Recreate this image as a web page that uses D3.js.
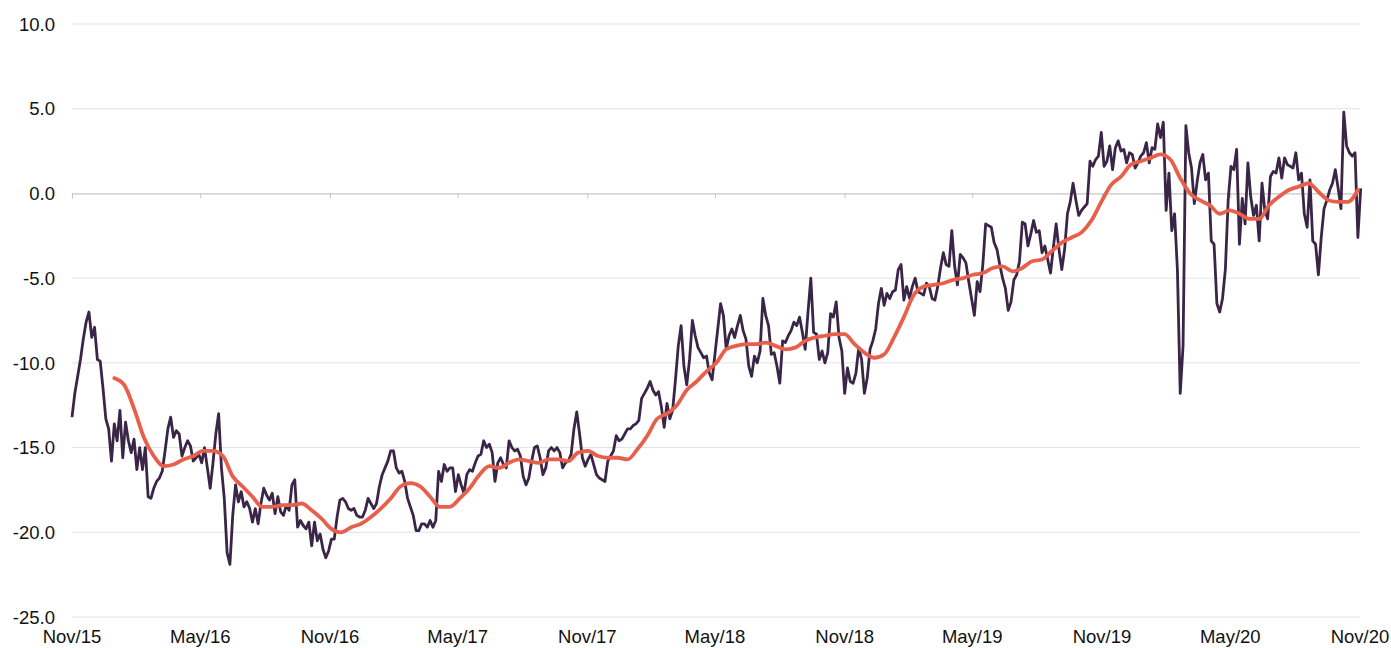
<!DOCTYPE html>
<html>
<head>
<meta charset="utf-8">
<script src="https://cdn.jsdelivr.net/npm/d3@7"></script>
<style>
	body { margin: 0; background: #fff; }
	text { font-family: 'Liberation Sans', Arial, sans-serif; }
</style>
</head>
<body>
<script>
// daily-ish discount series, one value every 4 days from 1 Nov 2015
var startDate = new Date(2015, 10, 1);
var stepDays = 4;
var discount = [
	-13.2, -11.8, -10.8, -9.8, -8.6, -7.6, -7.0, -8.5, -7.9, -9.8,
	-9.9, -11.5, -13.3, -13.9, -15.8, -13.6, -14.6, -12.8, -15.6, -13.5,
	-14.6, -15.3, -14.5, -16.3, -15.0, -16.3, -15.0, -17.9, -18.0, -17.4,
	-17.0, -16.8, -16.4, -15.2, -13.9, -13.2, -14.4, -14.0, -14.2, -15.5,
	-15.0, -14.6, -14.9, -15.8, -15.6, -15.4, -15.9, -15.0, -16.2, -17.4,
	-15.9, -14.2, -13.0, -16.2, -18.0, -21.2, -21.9, -19.0, -17.2, -18.2,
	-17.6, -18.5, -18.2, -18.6, -19.4, -18.6, -19.5, -18.3, -17.4, -17.8,
	-18.1, -17.7, -18.9, -17.9, -18.8, -19.0, -18.4, -18.7, -17.2, -16.9,
	-19.7, -19.3, -19.6, -19.8, -19.4, -20.8, -19.4, -20.5, -20.1, -21.0,
	-21.5, -21.1, -20.4, -20.4, -19.1, -18.1, -18.0, -18.2, -18.6, -18.7,
	-18.6, -19.0, -19.1, -19.1, -18.7, -18.0, -18.3, -18.6, -18.3, -17.3,
	-16.6, -16.2, -15.8, -15.2, -15.2, -16.2, -16.5, -16.4, -17.0, -18.0,
	-18.5, -19.0, -19.9, -19.9, -19.5, -19.5, -19.7, -19.3, -19.7, -19.3,
	-16.4, -17.0, -16.0, -16.4, -16.2, -16.2, -17.6, -16.6, -17.2, -17.7,
	-16.6, -16.3, -16.4, -15.9, -15.5, -15.4, -14.6, -15.0, -14.8, -15.3,
	-17.0, -15.9, -15.6, -16.0, -16.2, -14.6, -15.0, -15.2, -15.1, -15.5,
	-16.7, -17.2, -16.8, -15.8, -15.0, -14.9, -15.6, -16.6, -16.2, -15.2,
	-15.0, -15.2, -15.0, -15.3, -16.2, -15.9, -15.8, -15.4, -13.9, -12.9,
	-14.2, -15.6, -16.1, -15.7, -15.4, -16.0, -16.6, -16.8, -16.9, -17.0,
	-15.8, -15.5, -15.2, -14.3, -14.6, -14.5, -14.2, -13.9, -13.9, -13.7,
	-13.6, -13.4, -12.1, -11.8, -11.5, -11.1, -11.6, -11.9, -11.7, -12.6,
	-13.8, -12.4, -13.3, -12.8, -11.0, -9.0, -7.8, -10.2, -11.3, -9.8,
	-7.5, -8.4, -9.1, -9.4, -9.7, -9.6, -10.6, -11.0, -9.5, -8.0,
	-6.5, -7.2, -9.2, -8.4, -8.0, -8.5, -7.8, -7.2, -8.1, -8.6,
	-10.2, -10.8, -9.6, -10.0, -9.3, -6.2, -7.2, -7.8, -9.5, -9.4,
	-10.2, -11.2, -8.7, -8.8, -8.4, -8.1, -7.6, -7.8, -7.3, -8.2,
	-9.2, -7.0, -5.0, -8.2, -8.3, -9.8, -9.3, -10.0, -9.4, -7.1,
	-7.3, -6.4, -8.5, -9.3, -11.8, -10.3, -11.1, -11.2, -10.6, -9.1,
	-9.8, -11.8, -10.9, -9.2, -8.7, -8.0, -6.5, -5.6, -6.6, -5.9,
	-6.2, -5.8, -5.7, -4.5, -4.2, -6.3, -5.5, -6.2, -5.5, -5.0,
	-5.8, -5.9, -6.0, -5.3, -5.5, -6.2, -6.3, -5.5, -4.4, -3.5,
	-4.2, -4.3, -2.2, -4.3, -5.4, -3.6, -3.8, -4.1, -5.2, -6.2,
	-7.2, -5.2, -5.8, -4.2, -1.8, -1.9, -2.0, -2.9, -3.3, -4.2,
	-5.0, -5.6, -6.9, -6.4, -5.1, -4.8, -4.0, -1.7, -1.8, -3.1,
	-2.4, -1.6, -2.3, -2.2, -3.5, -3.1, -3.9, -4.7, -3.2, -1.8,
	-3.3, -4.5, -3.3, -1.2, -0.5, 0.6, -0.4, -1.3, -1.0, -0.8,
	-0.6, 1.9, 1.6, 2.0, 2.2, 3.6, 1.6, 1.9, 2.8, 1.4,
	2.7, 3.1, 2.5, 2.6, 1.8, 2.4, 2.3, 1.5, 1.8, 2.2,
	2.4, 3.0, 1.8, 2.7, 2.6, 4.1, 3.3, 4.2, -1.0, 1.2,
	-2.2, -1.2, -4.5, -11.8, -9.0, 4.0, 2.4, 1.5, -0.6, 0.7,
	1.8, 2.3, 0.8, 1.2, -2.8, -3.0, -6.5, -7.0, -6.2, -4.5,
	-0.4, 1.6, 1.4, 2.6, -3.0, -0.3, -1.8, 1.8, -0.2, -1.3,
	-0.7, -2.8, 0.6, -1.0, -1.5, 1.0, 1.3, 1.2, 2.1, 0.9,
	2.1, 1.7, 1.6, 1.5, 2.4, 0.8, 1.2, -1.2, -2.0, 0.8,
	-2.8, -3.0, -4.8, -2.6, -0.9, -0.4, 0.2, 0.6, 1.4, 0.3,
	-0.9, 4.8, 2.8, 2.4, 2.2, 2.4, -2.6, 0.3
];

// moving average, one value every 14 days from 31 Dec 2015
var avgOffsetDays = 60;
var avgStepDays = 14;
var average = [
	-10.9, -11.3, -12.7, -14.4, -15.5, -16.1, -16.0, -15.7, -15.5, -15.2,
	-15.2, -15.5, -16.7, -17.3, -17.9, -18.5, -18.5, -18.4, -18.4, -18.3,
	-18.7, -19.2, -19.8, -20.0, -19.7, -19.5, -19.1, -18.6, -18.0, -17.3,
	-17.1, -17.3, -17.9, -18.5, -18.5, -18.0, -17.4, -16.6, -16.1, -16.2,
	-15.9, -15.7, -15.8, -15.9, -15.7, -15.7, -15.8, -15.3, -15.2, -15.5,
	-15.6, -15.6, -15.7, -15.1, -14.3, -13.3, -13.0, -12.5, -11.6, -11.1,
	-10.5, -10.0, -9.2, -9.0, -8.9, -8.9, -8.8, -9.0, -9.2, -9.1,
	-8.7, -8.5, -8.4, -8.3, -8.3, -8.9, -9.4, -9.7, -9.5, -8.5,
	-7.3, -6.0, -5.5, -5.4, -5.3, -5.1, -5.0, -4.8, -4.7, -4.4,
	-4.3, -4.6, -4.4, -4.0, -3.9, -3.4, -2.9, -2.6, -2.3, -1.6,
	-0.5, 0.5, 1.0, 1.7, 1.9, 2.1, 2.3, 2.0, 0.9, 0.0,
	-0.4, -0.7, -1.2, -1.0, -1.2, -1.5, -1.5, -0.7, -0.2, 0.2,
	0.4, 0.6, 0.1, -0.4, -0.5, -0.5, 0.2
];

var yTicks = [10, 5, 0, -5, -10, -15, -20, -25];
var xTickDates = ['2015-11-01', '2016-05-01', '2016-11-01', '2017-05-01', '2017-11-01', '2018-05-01',
	'2018-11-01', '2019-05-01', '2019-11-01', '2020-05-01', '2020-11-01'];
var xTickLabels = ['Nov/15', 'May/16', 'Nov/16', 'May/17', 'Nov/17', 'May/18',
	'Nov/18', 'May/19', 'Nov/19', 'May/20', 'Nov/20'];

var W = 1391, H = 648;
var margin = { left: 72, right: 31, top: 24, bottom: 31 };
var width = W - margin.left - margin.right;
var height = H - margin.top - margin.bottom;

var parse = d3.timeParse('%Y-%m-%d');
var tickDates = xTickDates.map(parse);
// plain hyphen for negatives, as in the source chart
var fmt = d3.formatLocale({ decimal: '.', thousands: ',', grouping: [3], currency: ['', ''], minus: '-' }).format('.1f');

var premiumData = discount.map(function(v, i) {
	return { date: d3.timeDay.offset(startDate, i * stepDays), value: v };
});
var averageData = average.map(function(v, i) {
	return { date: d3.timeDay.offset(startDate, avgOffsetDays + i * avgStepDays), value: v };
});

var svg = d3.select('body').append('svg')
	.attr('width', W)
	.attr('height', H);

var g = svg.append('g').attr('transform', 'translate(' + margin.left + ',' + margin.top + ')');

var x = d3.scaleTime()
	.domain([tickDates[0], tickDates[tickDates.length - 1]])
	.range([0, width]);

var y = d3.scaleLinear().domain([-25, 10]).range([height, 0]);

// horizontal gridlines
g.selectAll('.grid')
	.data(yTicks.filter(function(d) { return d !== 0; }))
	.enter().append('line')
	.attr('class', 'grid')
	.attr('x1', 0).attr('x2', width)
	.attr('y1', function(d) { return y(d); })
	.attr('y2', function(d) { return y(d); })
	.attr('stroke', '#e3e3e3')
	.attr('stroke-width', 1);

// y labels
g.selectAll('.ylab')
	.data(yTicks)
	.enter().append('text')
	.attr('class', 'ylab')
	.attr('x', -17)
	.attr('y', function(d) { return y(d); })
	.attr('dy', '0.36em')
	.attr('text-anchor', 'end')
	.attr('font-size', '18.5px')
	.attr('fill', '#111')
	.text(function(d) { return fmt(d); });

// zero axis with ticks
var xAxis = d3.axisBottom(x)
	.tickValues(tickDates)
	.tickSize(5)
	.tickFormat('');
var axisG = g.append('g')
	.attr('transform', 'translate(0,' + y(0) + ')')
	.call(xAxis);
axisG.select('.domain').attr('stroke', '#c6c6c6').attr('stroke-width', 1.2);
axisG.selectAll('.tick line').attr('stroke', '#c6c6c6');

// x labels at bottom
g.selectAll('.xlab')
	.data(tickDates)
	.enter().append('text')
	.attr('class', 'xlab')
	.attr('x', function(d) { return x(d); })
	.attr('y', height + 26)
	.attr('text-anchor', 'middle')
	.attr('font-size', '18.5px')
	.attr('fill', '#111')
	.text(function(d, i) { return xTickLabels[i]; });

var line = d3.line()
	.x(function(d) { return x(d.date); })
	.y(function(d) { return y(d.value); });

g.append('path')
	.datum(premiumData)
	.attr('d', line)
	.attr('fill', 'none')
	.attr('stroke', '#3b2547')
	.attr('stroke-width', 2.8)
	.attr('stroke-linejoin', 'round');

g.append('path')
	.datum(averageData)
	.attr('d', line.curve(d3.curveMonotoneX))
	.attr('fill', 'none')
	.attr('stroke', '#e8604c')
	.attr('stroke-width', 3.8)
	.attr('stroke-linejoin', 'round')
	.attr('stroke-linecap', 'round');
</script>
</body>
</html>
